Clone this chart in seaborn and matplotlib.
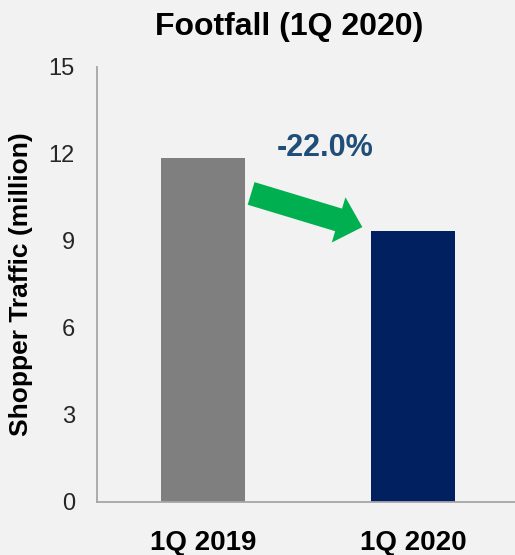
import matplotlib
matplotlib.use("Agg")
import matplotlib.pyplot as plt
import seaborn as sns
import pandas as pd

categories = ["1Q 2019", "1Q 2020"]
traffic = [11.86, 9.35]
bar_colors = ["#7F7F7F", "#002060"]
change_label = "-22.0%"
yticks = [0, 3, 6, 9, 12, 15]

sns.set_theme(style="white")
plt.rcParams['font.family'] = ['Liberation Sans', 'DejaVu Sans']

bg = "#F2F2F2"
fig = plt.figure(figsize=(5.15, 5.55), dpi=100, facecolor=bg)
ax = fig.add_axes([0.1883, 0.0955, 0.8117, 0.7838])
ax.set_facecolor(bg)

df = pd.DataFrame({"Quarter": categories, "Traffic": traffic})
sns.barplot(data=df, x="Quarter", y="Traffic", hue="Quarter",
            palette=bar_colors, width=0.4, saturation=1, legend=False,
            linewidth=0, ax=ax)

ax.set_xlim(-0.505, 1.483)
ax.set_ylim(0, 15)
ax.set_yticks(yticks)
ax.set_yticklabels([str(t) for t in yticks], fontsize=17, color="#262626")
ax.set_xticks(range(len(categories)))
ax.set_xticklabels(categories, fontsize=20, fontweight="bold", color="black")
ax.tick_params(axis="y", length=0, pad=16)
ax.tick_params(axis="x", length=0, pad=20)

for s in ["top", "right"]:
    ax.spines[s].set_visible(False)
for s in ["left", "bottom"]:
    ax.spines[s].set_color("#A6A6A6")
    ax.spines[s].set_linewidth(1.3)

ax.set_xlabel("")
ax.set_ylabel("Shopper Traffic (million)", fontsize=19, fontweight="bold", color="black")
ax.yaxis.set_label_coords(-0.153, 0.5)

fig.text(0.561, 0.951, "Footfall (1Q 2020)", ha="center", va="center",
         fontsize=23, fontweight="bold", color="black")

ax.annotate("", xy=(0.757, 9.48), xytext=(0.228, 10.64),
            arrowprops=dict(arrowstyle="simple,head_length=1.05,head_width=2.0,tail_width=1.0",
                            mutation_scale=17, color="#00B050", shrinkA=0, shrinkB=0, lw=0))

ax.text(0.581, 12.2, change_label, ha="center", va="center", fontsize=22,
        fontweight="bold", color="#1F4E79")

fig.savefig("out.png", dpi=100, facecolor=bg)
